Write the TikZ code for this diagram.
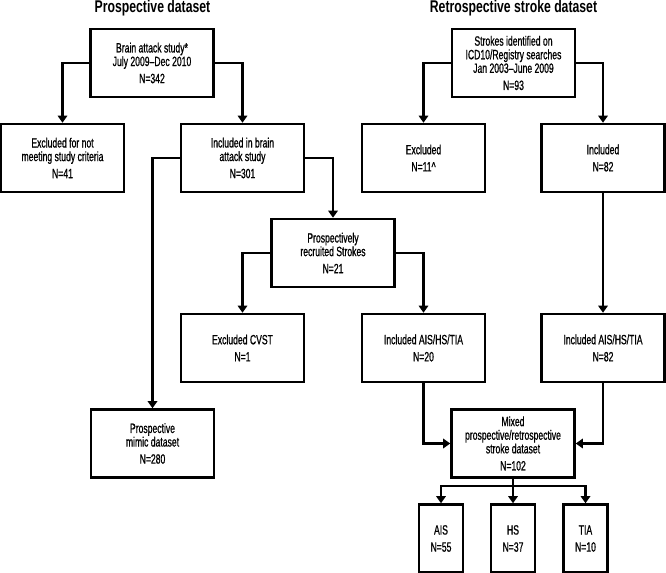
\documentclass[tikz,border=0pt]{standalone}
\usepackage{fontspec}
\setmainfont{Liberation Sans}[FakeStretch=0.64, FakeBold=0.8]
\newfontfamily\headfont{Liberation Sans Bold}[FakeStretch=0.72]
\usetikzlibrary{arrows.meta, positioning}
\tikzset{
  % Flowchart styles
  box/.style={rectangle, minimum width=3.69cm, minimum height=2.04cm, text centered, align=center, draw=black, line width=2.1pt, inner sep=2pt, font=\fontsize{11.5}{11.6}\selectfont},
  smallbox/.style={box, minimum width=1.32cm},
  heading/.style={font=\headfont\fontsize{14.5}{16}\selectfont, anchor=base},
  arrow/.style={-{Triangle[length=6pt, width=8pt]}, line width=1.9pt},
  link/.style={line width=1.9pt},
}

\begin{document}
\begin{tikzpicture}[x=0.03cm, y=-0.03cm]
    \useasboundingbox (0,0) rectangle (666,573);

    % Headings
    \node[heading] (prosphead) at (152.5,13) {Prospective dataset};
    \node[heading] (retrohead) at (513.5,13) {Retrospective stroke dataset};

    % Prospective dataset
    \node[box] (brain) at (152,63) {Brain attack study*\\July 2009--Dec 2010\\[3pt]N=342};
    \node[box] (notmet) at (62.5,158) {Excluded for not\\meeting study criteria\\[3pt]N=41};
    \node[box] (inbrain) at (242.5,158) {Included in brain\\attack study\\[3pt]N=301};
    \node[box] (recruited) at (333,253) {Prospectively\\recruited Strokes\\[3pt]N=21};
    \node[box] (cvst) at (242.5,348) {Excluded CVST\\[3pt]N=1};
    \node[box] (inprosp) at (423.5,348) {Included AIS/HS/TIA\\[3pt]N=20};
    \node[box] (mimic) at (152.5,443.5) {Prospective\\mimic dataset\\[3pt]N=280};

    % Retrospective stroke dataset
    \node[box] (registry) at (513.5,63) {Strokes identified on\\ICD10/Registry searches\\Jan 2003--June 2009\\[3pt]N=93};
    \node[box] (excluded) at (423.5,158) {Excluded\\[3pt]N=11\textasciicircum};
    \node[box] (included) at (603,158) {Included\\[3pt]N=82};
    \node[box] (inretro) at (603,348) {Included AIS/HS/TIA\\[3pt]N=82};

    % Mixed dataset
    \node[box] (mixed) at (513,443.5) {Mixed\\prospective/retrospective\\stroke dataset\\[3pt]N=102};
    \node[smallbox] (ais) at (441,538.5) {AIS\\[3pt]N=55};
    \node[smallbox] (hs) at (513,538.5) {HS\\[3pt]N=37};
    \node[smallbox] (tia) at (585.5,538.5) {TIA\\[3pt]N=10};
    \coordinate (fork) at (513,486);

    % Arrows
    \draw[arrow] (brain.west) -| (notmet.north);
    \draw[arrow] (brain.east) -| (inbrain.north);
    \draw[arrow] (inbrain.west) -| (mimic.north);
    \draw[arrow] (inbrain.east) -| (recruited.north);
    \draw[arrow] (recruited.west) -| (cvst.north);
    \draw[arrow] (recruited.east) -| (inprosp.north);
    \draw[arrow] (registry.west) -| (excluded.north);
    \draw[arrow] (registry.east) -| (included.north);
    \draw[arrow] (included.south) -- (inretro.north);
    \draw[arrow] (inprosp.south) |- (mixed.west);
    \draw[arrow] (inretro.south) |- (mixed.east);
    \draw[link] (mixed.south) -- (fork);
    \draw[arrow] (fork) -| (ais.north);
    \draw[arrow] (fork) -- (hs.north);
    \draw[arrow] (fork) -| (tia.north);
  \end{tikzpicture}
\end{document}
